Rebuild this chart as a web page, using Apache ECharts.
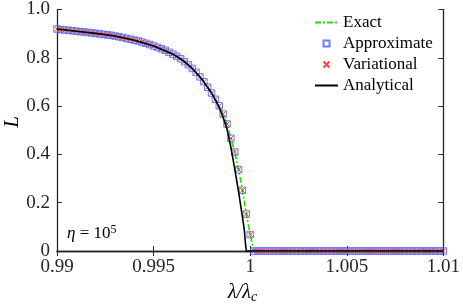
<!DOCTYPE html>
<html>
<head>
<meta charset="utf-8">
<script src="https://cdn.jsdelivr.net/npm/echarts@6/dist/echarts.min.js"></script>
<style>html,body{margin:0;padding:0;background:#fff;}#c{width:463px;height:305px;}</style>
</head>
<body>
<div id="c"></div>
<script>
// sampling grid of lambda/lambda_c (step 0.0002 from 0.99 to 1.01)
const lambdaGrid = [];
for (let i = 0; i <= 100; i++) lambdaGrid.push(+(0.99 + 0.0002 * i).toFixed(4));

// Exact / approximate / variational values
const exactL = [
  0.919, 0.917, 0.915, 0.914, 0.912, 0.910, 0.908, 0.907, 0.905, 0.903,
  0.901, 0.899, 0.897, 0.895, 0.893, 0.890, 0.887, 0.884, 0.880, 0.877,
  0.873, 0.870, 0.865, 0.860, 0.855, 0.849, 0.843, 0.837, 0.831, 0.823,
  0.815, 0.806, 0.796, 0.784, 0.771, 0.756, 0.740, 0.721, 0.701, 0.678,
  0.654, 0.628, 0.601, 0.567, 0.526, 0.467, 0.410, 0.337, 0.251, 0.153,
  0.068, 0, 0, 0, 0, 0, 0, 0, 0, 0,
  0, 0, 0, 0, 0, 0, 0, 0, 0, 0,
  0, 0, 0, 0, 0, 0, 0, 0, 0, 0,
  0, 0, 0, 0, 0, 0, 0, 0, 0, 0,
  0, 0, 0, 0, 0, 0, 0, 0, 0, 0,
  0
];
const approxL = exactL;
const variationalL = exactL;

// Analytical curve
const analyticalLambda = [0.99, 0.991, 0.992, 0.993, 0.994, 0.995, 0.996, 0.9965, 0.997, 0.9975, 0.998,
  0.9982, 0.9984, 0.9986, 0.9988, 0.999, 0.9992, 0.9994, 0.9996, 0.9997, 0.99975, 0.9998, 1.01];
const analyticalL = [0.919, 0.910, 0.901, 0.890, 0.873, 0.849, 0.815, 0.790, 0.756, 0.711, 0.654,
  0.625, 0.593, 0.553, 0.505, 0.430, 0.340, 0.245, 0.140, 0.085, 0.035, 0, 0];

const xTicks = [0.99, 0.995, 1, 1.005, 1.01];
const yTicks = [0, 0.2, 0.4, 0.6, 0.8, 1.0];

const pairs = (xs, ys) => xs.map((x, i) => [x, ys[i]]);
const axisColor = '#262626';
const serif = 'Liberation Serif';

const chart = echarts.init(document.getElementById('c'), null, {renderer: 'canvas'});
const baseX = {
  type: 'value', min: xTicks[0], max: xTicks[xTicks.length - 1], interval: 0.005,
  axisLine: {show: true, lineStyle: {color: axisColor, width: 1.3}},
  axisTick: {show: true, inside: true, length: 5, lineStyle: {color: axisColor, width: 1}},
  splitLine: {show: false}
};
const baseY = {
  type: 'value', min: yTicks[0], max: yTicks[yTicks.length - 1], interval: 0.2,
  axisLine: {show: true, lineStyle: {color: axisColor, width: 1.3}},
  axisTick: {show: true, inside: true, length: 5, lineStyle: {color: axisColor, width: 1}},
  splitLine: {show: false}
};
const hideSym = {color: 'rgba(0,0,0,0)', borderWidth: 0, opacity: 0};
chart.setOption({
  animation: false,
  backgroundColor: '#fff',
  textStyle: {fontFamily: serif},
  grid: {left: 57, right: 17, top: 5, bottom: 54, containLabel: false},
  xAxis: [
    Object.assign({}, baseX, {position: 'bottom',
      axisLabel: {show: true, margin: 7, color: axisColor, fontFamily: serif, fontSize: 19,
        formatter: v => String(parseFloat(v.toFixed(3)))}}),
    Object.assign({}, baseX, {position: 'top', axisLabel: {show: false}})
  ],
  yAxis: [
    Object.assign({}, baseY, {position: 'left',
      axisLabel: {show: true, margin: 7, color: axisColor, fontFamily: serif, fontSize: 19,
        formatter: v => (Math.abs(v) < 1e-9 ? '0' : v.toFixed(1))}}),
    Object.assign({}, baseY, {position: 'right', axisLabel: {show: false}})
  ],
  legend: {
    orient: 'vertical', left: 314, top: 14, padding: 0, itemWidth: 23, itemHeight: 6, itemGap: 4,
    textStyle: {color: '#000', fontFamily: serif, fontSize: 17, lineHeight: 17},
    data: [
      {name: 'Exact', itemStyle: hideSym},
      {name: 'Approximate', icon: 'path://M0,0H10V10H0Z'},
      {name: 'Variational'},
      {name: 'Analytical', itemStyle: hideSym}
    ]
  },
  series: [
    {
      name: 'Exact', type: 'line', data: pairs(lambdaGrid, exactL), symbol: 'none',
      lineStyle: {color: '#22e000', width: 1.6, type: [6, 2, 2, 2]}, itemStyle: {color: '#22e000'}, z: 2
    },
    {
      name: 'Approximate', type: 'scatter', data: pairs(lambdaGrid, approxL),
      symbol: 'rect', symbolSize: 6.5,
      itemStyle: {color: 'rgba(0,0,0,0)', borderColor: '#4060ff', borderWidth: 1}, z: 3
    },
    {
      name: 'Variational', type: 'scatter', data: pairs(lambdaGrid, variationalL),
      symbol: 'path://M0,0L10,10M10,0L0,10', symbolSize: 5,
      itemStyle: {color: 'rgba(0,0,0,0)', borderColor: '#ff1010', borderWidth: 1}, z: 4
    },
    {
      name: 'Analytical', type: 'line', data: pairs(analyticalLambda, analyticalL), symbol: 'none',
      lineStyle: {color: '#000', width: 1.6}, itemStyle: {color: '#000'}, z: 5
    }
  ],
  graphic: [
    {type: 'text', left: 228, top: 283, style: {
      rich: {
        i: {fontFamily: serif, fontStyle: 'italic', fontSize: 20, fill: '#000'},
        s: {fontFamily: serif, fontStyle: 'italic', fontSize: 14, fill: '#000', padding: [8, 0, 0, 0]}
      },
      text: '{i|λ/λ}{s|c}'
    }},
    {type: 'text', x: 12, y: 122, rotation: Math.PI / 2, style: {
      text: 'L', fontFamily: serif, fontStyle: 'italic', fontSize: 21, fill: '#000',
      align: 'center', verticalAlign: 'middle'
    }},
    {type: 'text', left: 67, top: 224, style: {
      rich: {
        i: {fontFamily: serif, fontStyle: 'italic', fontSize: 17, fill: '#000'},
        n: {fontFamily: serif, fontSize: 17, fill: '#000'},
        p: {fontFamily: serif, fontSize: 12, fill: '#000', verticalAlign: 'top', padding: [0, 0, 8, 0]}
      },
      text: '{i|η}{n| = 10}{p|5}'
    }}
  ]
});
</script>
</body>
</html>
